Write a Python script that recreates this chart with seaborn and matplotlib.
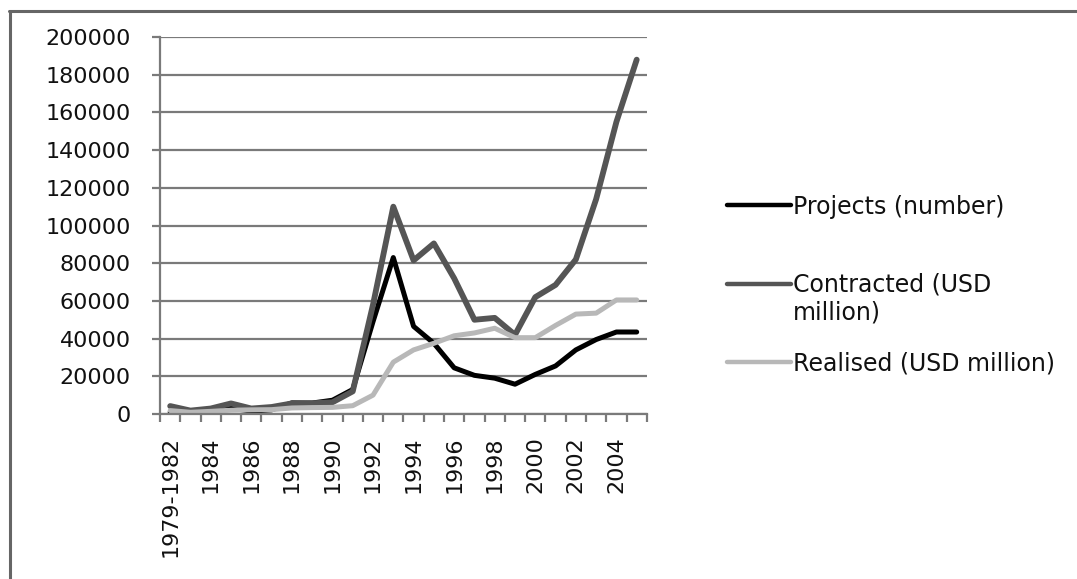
# encoding: utf-8
# FDI into China: projects, contracted and realised values, 1979-2005
import pandas as pd
import matplotlib
matplotlib.use('Agg')
import matplotlib.pyplot as plt
from matplotlib.lines import Line2D
import seaborn as sns

# x categories and tick labels
periods = ['1979-1982', '1983', '1984', '1985', '1986', '1987', '1988', '1989',
           '1990', '1991', '1992', '1993', '1994', '1995', '1996', '1997',
           '1998', '1999', '2000', '2001', '2002', '2003', '2004', '2005']
shown_labels = ['1979-1982', '1984', '1986', '1988', '1990', '1992', '1994',
                '1996', '1998', '2000', '2002', '2004']

# series
projects = [1000, 600, 1900, 3100, 1500, 2200, 5900, 5800, 7300, 13000, 49000, 83000,
            46500, 37500, 24500, 20500, 19000, 15800, 21000, 25500, 34000, 39500,
            43500, 43500]
contracted = [4200, 1800, 2900, 5600, 2900, 3700, 5600, 5700, 6200, 12000, 58000, 110000,
              81500, 90500, 72000, 50000, 51000, 42000, 62000, 68500, 82000, 114000,
              155000, 188000]
realised = [1800, 900, 1400, 2000, 2200, 2300, 3200, 3400, 3500, 4400, 10000, 27500,
            34000, 37500, 41500, 43000, 45500, 40500, 40500, 47000, 53000, 53500,
            60500, 60500]

series_names = ['Projects (number)', 'Contracted (USD million)', 'Realised (USD million)']
# legend lines as they are wrapped in the chart
legend_first_lines = ['Projects (number)', 'Contracted (USD', 'Realised (USD million)']
legend_wrap = 'million)'
series_colors = ['#000000', '#555555', '#b8b8b8']
y_ticks = [0, 20000, 40000, 60000, 80000, 100000, 120000, 140000, 160000, 180000, 200000]

# long form table for seaborn
frames = []
for name, vals in zip(series_names, [projects, contracted, realised]):
    frames.append(pd.DataFrame({'pos': range(len(periods)), 'period': periods,
                                'value': vals, 'series': name}))
df = pd.concat(frames, ignore_index=True)

sns.set_style('white')
plt.rcParams['font.family'] = ['DejaVu Sans']

fig = plt.figure(figsize=(10.77, 5.79), dpi=100)
ax = fig.add_axes([0.1486, 0.285, 0.452, 0.651])

sns.lineplot(data=df, x='pos', y='value', hue='series', hue_order=series_names,
             palette=series_colors, linewidth=3.8, legend=False, ax=ax,
             solid_capstyle='round', solid_joinstyle='round')
for line, lw in zip(ax.lines, [3.6, 4.2, 3.6]):
    line.set_linewidth(lw)

ax.set_xlim(-0.5, len(periods) - 0.5)
ax.set_ylim(0, 200000)
ax.set_yticks(y_ticks)
ax.set_yticklabels([str(v) for v in y_ticks], fontsize=16, color='#111111')
ax.yaxis.grid(True, color='#7a7a7a', linewidth=1.6)
ax.set_axisbelow(True)

ax.set_xticks([periods.index(p) for p in shown_labels])
ax.set_xticklabels(shown_labels, rotation=90, fontsize=16, color='#111111')
ax.set_xticks([i - 0.5 for i in range(len(periods) + 1)], minor=True)
ax.tick_params(axis='x', which='both', bottom=True)
ax.tick_params(axis='x', which='major', length=0, pad=16)
ax.tick_params(axis='x', which='minor', length=6, width=1.6, color='#7a7a7a', direction='out')
ax.tick_params(axis='y', left=True, length=6, width=1.6, color='#7a7a7a', pad=15,
               direction='out')
ax.set_xlabel('')
ax.set_ylabel('')

for side in ['top', 'right']:
    ax.spines[side].set_visible(False)
for side in ['left', 'bottom']:
    ax.spines[side].set_color('#7a7a7a')
    ax.spines[side].set_linewidth(1.6)

handles = [Line2D([0], [0], color=c, linewidth=3.2) for c in series_colors]
leg = fig.legend(handles, legend_first_lines, loc='center left',
                 bbox_to_anchor=(0.664, 0.508), frameon=False, fontsize=17,
                 handlelength=2.7, handletextpad=0.1, labelspacing=2.3, borderpad=0,
                 labelcolor='#111111')

# second line of the wrapped contracted label, placed under its first line
fig.canvas.draw()
bb = leg.get_texts()[1].get_window_extent().transformed(fig.transFigure.inverted())
fig.text(bb.x0, bb.y0 - 0.048, legend_wrap, ha='left', va='bottom', fontsize=17,
         color='#111111')

# outer chart border (top and left edges visible)
fig.add_artist(Line2D([0.0084, 1.0], [0.981, 0.981], color='#666666', linewidth=2.2))
fig.add_artist(Line2D([0.0093, 0.0093], [0.0, 0.981], color='#666666', linewidth=2.2))

fig.savefig('out.png', dpi=100)
